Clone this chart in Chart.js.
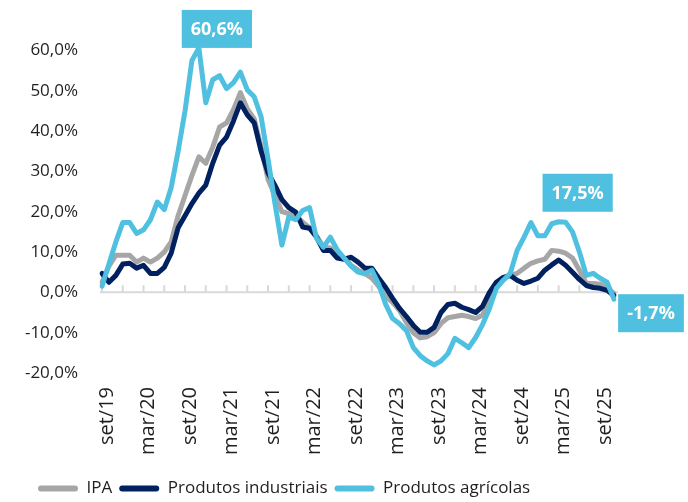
<!DOCTYPE html>
<html lang="pt-BR">
<head>
<meta charset="utf-8">
<script src="https://cdn.jsdelivr.net/npm/chart.js@4/dist/chart.umd.min.js"></script>
<style>
	html, body { margin: 0; padding: 0; background: #fff; }
	#wrap { width: 688px; height: 502px; }
</style>
</head>
<body>
<div id="wrap"><canvas id="chart" width="688" height="502"></canvas></div>
<script>
// meses, set/19 a nov/25
const months = [
	'set/19', 'out/19', 'nov/19', 'dez/19',
	'jan/20', 'fev/20', 'mar/20', 'abr/20', 'mai/20', 'jun/20', 'jul/20', 'ago/20', 'set/20', 'out/20', 'nov/20', 'dez/20',
	'jan/21', 'fev/21', 'mar/21', 'abr/21', 'mai/21', 'jun/21', 'jul/21', 'ago/21', 'set/21', 'out/21', 'nov/21', 'dez/21',
	'jan/22', 'fev/22', 'mar/22', 'abr/22', 'mai/22', 'jun/22', 'jul/22', 'ago/22', 'set/22', 'out/22', 'nov/22', 'dez/22',
	'jan/23', 'fev/23', 'mar/23', 'abr/23', 'mai/23', 'jun/23', 'jul/23', 'ago/23', 'set/23', 'out/23', 'nov/23', 'dez/23',
	'jan/24', 'fev/24', 'mar/24', 'abr/24', 'mai/24', 'jun/24', 'jul/24', 'ago/24', 'set/24', 'out/24', 'nov/24', 'dez/24',
	'jan/25', 'fev/25', 'mar/25', 'abr/25', 'mai/25', 'jun/25', 'jul/25', 'ago/25', 'set/25', 'out/25', 'nov/25'
];

const seriesNames = ['IPA', 'Produtos industriais', 'Produtos agrícolas'];

const ipa = [
	2.5, 6.5, 9.2, 9.2, 9.2, 7.5, 8.5, 7.5, 8.5, 10,
	12.5, 19, 24, 29, 33.6, 32, 36, 41, 42, 45.3,
	49.5, 45.5, 43, 36, 28, 24, 20, 19.5, 19, 17.4,
	16, 14, 11.2, 11, 9, 8.5, 6.7, 5.5, 4.7, 3.5,
	1.5, -1, -2.5, -4.5, -7.5, -10, -11.3, -11, -10, -7.7,
	-6.3, -6, -5.7, -6, -6.5, -5.7, -2, 1.5, 3.5, 4.2,
	4.7, 6, 7.2, 7.8, 8.2, 10.4, 10.2, 9.7, 8.5, 5.5,
	2.2, 2.2, 2, 1.2, -0.3
];

const industriais = [
	4.7, 2.5, 4.2, 7, 7.2, 6, 6.7, 4.7, 4.7, 6.2,
	9.7, 16, 19, 22, 24.6, 26.6, 32, 36.5, 38.5, 42.5,
	47, 44, 42, 35, 29.6, 26.5, 23, 21, 19.9, 16.2,
	15.9, 13.7, 10.4, 10.4, 8.5, 8.2, 8.7, 7.5, 6, 6,
	3.5, 1.2, -1.5, -4, -6, -8.2, -9.9, -9.9, -8.7, -5,
	-3, -2.7, -3.7, -4.3, -5, -3.5, 0, 2.5, 3.7, 4.2,
	3, 2.2, 2.8, 3.5, 5.5, 6.8, 8, 6.7, 5, 3.2,
	1.7, 1.2, 1, 0.5, -0.8
];

const agricolas = [
	1.5, 7, 12.5, 17.3, 17.3, 14.6, 15.5, 18, 22.4, 20.5,
	26, 35, 45, 57.5, 60.6, 47, 52.7, 53.7, 50.5, 52,
	54.6, 50.2, 48.5, 43.5, 33, 22, 11.7, 18.7, 18, 20.3,
	21, 13.4, 11.2, 13.7, 10.5, 8.5, 6.5, 5, 4.6, 5.5,
	2, -3, -6.5, -7.8, -9.5, -13.7, -15.7, -17, -18, -17,
	-15.2, -11.4, -12.5, -13.7, -11.2, -8, -4, 1, 3, 4.7,
	10.4, 13.7, 17.3, 14, 14, 17, 17.5, 17.4, 15, 10,
	4.2, 4.7, 3.5, 2.5, -1.7
];

const yTicks = [-20, -10, 0, 10, 20, 30, 40, 50, 60];

// rótulos destacados: série, índice do mês
const highlights = [
	{dataset: 2, index: 14, dx: 18, dy: -19},
	{dataset: 2, index: 66, dx: 19, dy: -29},
	{dataset: 2, index: 74, dx: 37, dy: 14},
];

const colIpa = '#a6a6a6';
const colInd = '#002060';
const colAgr = '#4fc0e0';
const fontFamily = '"Open Sans", "Noto Sans", sans-serif';

function pct(v) {
	return v.toFixed(1).replace('.', ',') + '%';
}

// linha do zero com marcas a cada 3 meses
const zeroAxis = {
	id: 'zeroAxis',
	beforeDatasetsDraw(chart) {
		const {ctx, chartArea, scales} = chart;
		const y0 = scales.y.getPixelForValue(0);
		ctx.save();
		ctx.strokeStyle = '#d9d9d9';
		ctx.lineWidth = 2;
		ctx.beginPath();
		ctx.moveTo(chartArea.left - 2, y0);
		ctx.lineTo(chartArea.right + 4, y0);
		for (let i = 0; i < months.length; i += 3) {
			let px = scales.x.getPixelForValue(i);
			ctx.moveTo(px, y0);
			ctx.lineTo(px, y0 - 7);
		}
		ctx.stroke();
		ctx.restore();
	}
};

const callouts = {
	id: 'callouts',
	afterDatasetsDraw(chart) {
		const ctx = chart.ctx;
		ctx.save();
		ctx.font = 'bold 18px ' + fontFamily;
		ctx.textAlign = 'center';
		ctx.textBaseline = 'middle';
		for (let h of highlights) {
			let pt = chart.getDatasetMeta(h.dataset).data[h.index];
			let text = pct(chart.data.datasets[h.dataset].data[h.index]);
			let w = ctx.measureText(text).width + 18;
			let cx = pt.x + h.dx;
			let cy = pt.y + h.dy;
			ctx.fillStyle = colAgr;
			ctx.fillRect(cx - w / 2, cy - 19, w, 38);
			ctx.fillStyle = '#fff';
			ctx.fillText(text, cx, cy + 1);
		}
		ctx.restore();
	}
};

// legenda começa um pouco à direita da borda
const legendShift = {
	id: 'legendShift',
	afterLayout(chart) {
		if (chart.legend) {
			chart.legend.left += 31;
		}
	}
};

function line(label, data, color, order) {
	return {
		label: label,
		data: data,
		borderColor: color,
		backgroundColor: color,
		borderWidth: 5,
		borderCapStyle: 'round',
		borderJoinStyle: 'round',
		pointRadius: 0,
		tension: 0,
		order: order,
	};
}

new Chart(document.getElementById('chart'), {
	type: 'line',
	data: {
		labels: months,
		datasets: [
			line(seriesNames[0], ipa, colIpa, 3),
			line(seriesNames[1], industriais, colInd, 2),
			line(seriesNames[2], agricolas, colAgr, 1),
		],
	},
	options: {
		responsive: false,
		animation: false,
		layout: {
			padding: {top: 10, right: 74, bottom: 0, left: 0},
		},
		scales: {
			x: {
				type: 'category',
				grid: {display: false, drawTicks: false},
				border: {display: false},
				ticks: {
					autoSkip: false,
					minRotation: 90,
					maxRotation: 90,
					padding: 14,
					labelOffset: 5,
					color: '#1f1f1f',
					font: {family: fontFamily, size: 20},
					callback: function(value, index) {
						let m = months[index];
						return (m.startsWith('set') || m.startsWith('mar')) ? m : '';
					},
				},
				afterFit: function(scale) {
					scale.height = 100;
					scale.paddingLeft = 0;
					scale.paddingRight = 0;
				},
			},
			y: {
				min: yTicks[0],
				max: 70,
				grid: {display: false, drawTicks: false},
				border: {display: false},
				afterBuildTicks: function(scale) {
					scale.ticks = yTicks.concat([70]).map(v => ({value: v}));
				},
				ticks: {
					padding: 24,
					color: '#1f1f1f',
					font: {family: fontFamily, size: 17},
					callback: function(value) {
						return yTicks.indexOf(value) === -1 ? '' : pct(value);
					},
				},
				afterFit: function(scale) {
					scale.width = 102;
					scale.paddingTop = 0;
					scale.paddingBottom = 0;
				},
			},
		},
		plugins: {
			legend: {
				position: 'bottom',
				align: 'start',
				maxHeight: 29,
				labels: {
					boxWidth: 40,
					boxHeight: 6,
					padding: 7,
					useBorderRadius: true,
					borderRadius: 3,
					color: '#1f1f1f',
					font: {family: fontFamily, size: 17},
					sort: (a, b) => a.datasetIndex - b.datasetIndex,
					generateLabels: function(chart) {
						let items = Chart.defaults.plugins.legend.labels.generateLabels(chart);
						for (let item of items) {
							item.lineWidth = 0;
						}
						return items;
					},
				},
			},
			tooltip: {enabled: false},
		},
	},
	plugins: [zeroAxis, callouts, legendShift],
});
</script>
</body>
</html>
